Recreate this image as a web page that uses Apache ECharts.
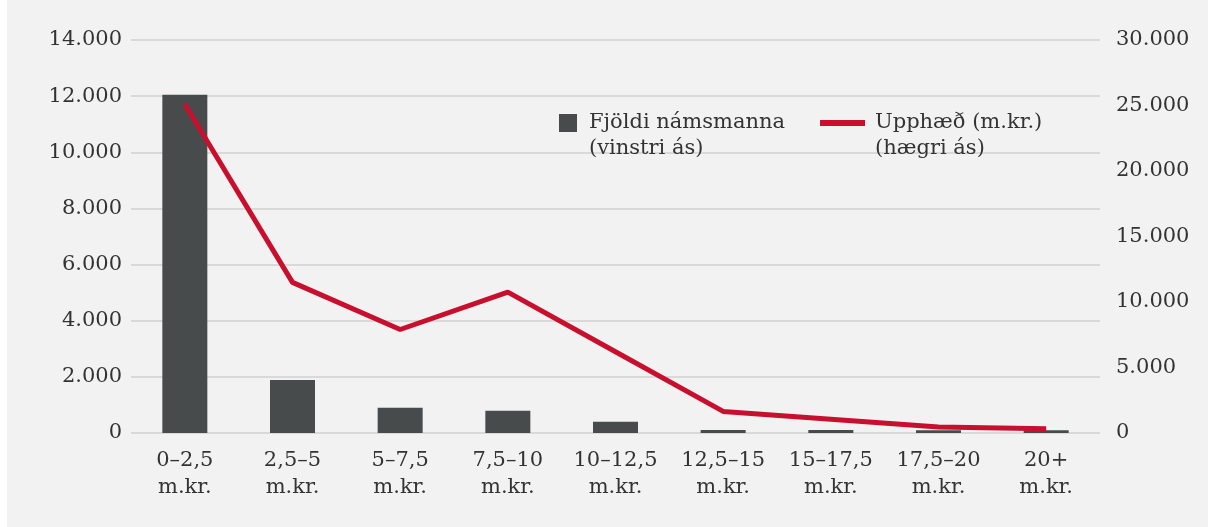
<!DOCTYPE html>
<html>
<head>
<meta charset="utf-8">
<script src="https://cdn.jsdelivr.net/npm/echarts@6/dist/echarts.min.js"></script>
<style>
	html, body { margin: 0; padding: 0; background: #ffffff; }
	#chart { position: absolute; left: 7px; top: 0; width: 1201px; height: 527px; background: #f2f2f2; }
</style>
</head>
<body>
<div id="chart"></div>
<script>
// flokkar (lánsupphæð)
var categories = ['0–2,5\nm.kr.', '2,5–5\nm.kr.', '5–7,5\nm.kr.', '7,5–10\nm.kr.', '10–12,5\nm.kr.',
	'12,5–15\nm.kr.', '15–17,5\nm.kr.', '17,5–20\nm.kr.', '20+\nm.kr.'];
// Fjöldi námsmanna (vinstri ás)
var studentCount = [12050, 1890, 900, 790, 400, 110, 110, 100, 100];
// Upphæð m.kr. (hægri ás)
var amount = [25100, 11500, 7900, 10750, 6200, 1650, 1050, 450, 330];

var barName = 'Fjöldi námsmanna\n(vinstri ás)';
var lineName = 'Upphæð (m.kr.)\n(hægri ás)';

var FONT = 'DejaVu Serif';
var TEXT_COLOR = '#333333';

// tákn í skýringu: efst í 52px háum reit svo það standi við fyrri línuna
var barIcon = 'path://M0,0L0.01,0M0,4H18V22H0ZM0,52L0.01,52';
var lineIcon = 'path://M0,0L0.01,0M0,10H45V16H0ZM0,52L0.01,52';

function fmt(v) {
	return String(v).replace(/\B(?=(\d{3})+(?!\d))/g, '.');
}

var legendText = {
	fontFamily : FONT,
	fontSize : 21,
	color : TEXT_COLOR,
	lineHeight : 26
};

var myChart = echarts.init(document.getElementById('chart'));
var option = {
	backgroundColor : '#f2f2f2',
	textStyle : { fontFamily : FONT },
	grid : {
		left : 124,
		right : 108,
		top : 40,
		bottom : 94
	},
	legend : [ {
		left : 552,
		top : 110,
		padding : 0,
		itemWidth : 18,
		itemHeight : 52,
		itemGap : 0,
		icon : barIcon,
		data : [ barName ],
		textStyle : echarts.util.extend({ padding : [ 0, 0, 0, 7 ] }, legendText)
	}, {
		left : 813,
		top : 110,
		padding : 0,
		itemWidth : 45,
		itemHeight : 52,
		itemGap : 0,
		icon : lineIcon,
		data : [ lineName ],
		textStyle : echarts.util.extend({ padding : [ 0, 0, 0, 5 ] }, legendText)
	} ],
	xAxis : {
		type : 'category',
		data : categories,
		axisLine : { show : false },
		axisTick : { show : false },
		axisLabel : {
			interval : 0,
			margin : 14,
			fontFamily : FONT,
			fontSize : 21,
			lineHeight : 27,
			color : TEXT_COLOR
		}
	},
	yAxis : [ {
		type : 'value',
		min : 0,
		max : 14000,
		interval : 2000,
		axisLine : { show : false },
		axisTick : { show : false },
		splitLine : { lineStyle : { color : '#d9d9d9', width : 2 } },
		axisLabel : {
			margin : 9,
			fontFamily : FONT,
			fontSize : 21,
			color : TEXT_COLOR,
			formatter : fmt
		}
	}, {
		type : 'value',
		min : 0,
		max : 30000,
		interval : 5000,
		axisLine : { show : false },
		axisTick : { show : false },
		splitLine : { show : false },
		axisLabel : {
			margin : 16,
			fontFamily : FONT,
			fontSize : 21,
			color : TEXT_COLOR,
			formatter : fmt
		}
	} ],
	series : [ {
		name : barName,
		type : 'bar',
		yAxisIndex : 0,
		data : studentCount,
		barWidth : 45,
		itemStyle : { color : '#474b4c' },
		animation : false
	}, {
		name : lineName,
		type : 'line',
		yAxisIndex : 1,
		data : amount,
		symbol : 'none',
		lineStyle : { color : '#c8102e', width : 5 },
		itemStyle : { color : '#c8102e' },
		animation : false
	} ]
};
myChart.setOption(option);
</script>
</body>
</html>
